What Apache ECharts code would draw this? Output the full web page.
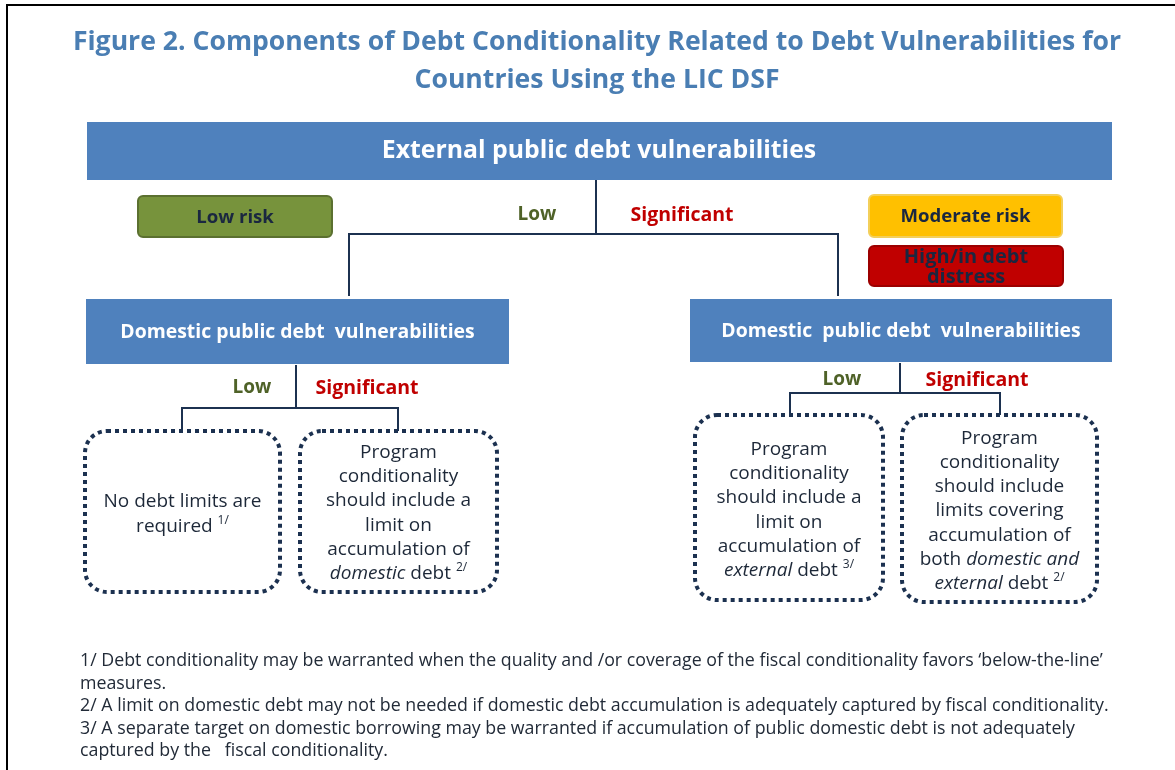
<!DOCTYPE html>
<html>
<head>
<meta charset="utf-8">
<script src="https://cdn.jsdelivr.net/npm/echarts@6/dist/echarts.min.js"></script>
<style>
  html, body { margin: 0; padding: 0; background: #fff; }
  #main { width: 1175px; height: 770px; }
</style>
</head>
<body>
<div id="main"></div>
<script>
/* texts of the figure */
var titleLines = [
    'Figure 2. Components of Debt Conditionality Related to Debt Vulnerabilities for',
    'Countries Using the LIC DSF'
];
var topLabel = 'External public debt vulnerabilities';
var riskLabels = ['Low risk', 'Moderate risk', 'High/in debt\ndistress'];
var branchLabels = ['Low', 'Significant'];
var domesticLabels = ['Domestic public debt  vulnerabilities', 'Domestic  public debt  vulnerabilities'];
var outcomeTexts = [
    'No debt limits are\nrequired {sup|1/}',
    'Program\nconditionality\nshould include a\nlimit on\naccumulation of\n{i|domestic} debt {sup|2/}',
    'Program\nconditionality\nshould include a\nlimit on\naccumulation of\n{i|external} debt {sup|3/}',
    'Program\nconditionality\nshould include\nlimits covering\naccumulation of\nboth {i|domestic and}\n{i|external} debt {sup|2/}'
];
var footnotes = [
    '1/ Debt conditionality may be warranted when the quality and /or coverage of the fiscal conditionality favors \u2018below-the-line\u2019',
    'measures.',
    '2/ A limit on domestic debt may not be needed if domestic debt accumulation is adequately captured by fiscal conditionality.',
    '3/ A separate target on domestic borrowing may be warranted if accumulation of public domestic debt is not adequately',
    'captured by the   fiscal conditionality.'
];

var FONT = '"Open Sans", "Noto Sans", sans-serif';
var NAVY = '#1c3150';
var BLUE = '#4f81bd';

/* layout */
var riskBoxes = [
    {x: 138, y: 196, w: 194, h: 41, fill: '#77933c', stroke: '#5b7030', size: 18.6},
    {x: 869, y: 195, w: 193, h: 42, fill: '#ffc000', stroke: '#f3cf5a', size: 18.6},
    {x: 869, y: 246, w: 194, h: 40, fill: '#c00000', stroke: '#9c0000', size: 20}
];
var domesticBoxes = [
    {x: 86, y: 299, w: 423, h: 65},
    {x: 690, y: 299, w: 422, h: 63}
];
var outcomeBoxes = [
    {x: 85, y: 431, w: 195, h: 161},
    {x: 300, y: 431, w: 197, h: 161},
    {x: 695, y: 415, w: 188, h: 185},
    {x: 902, y: 415, w: 195, h: 187}
];
var outcomeTextY = [514, 513, 510, 511];
/* branch label anchors: [lowX, sigX, y] */
var branchPos = [[537, 682, 215], [252, 367, 388], [842, 977, 380]];
/* connectors as polylines */
var connectors = [
    [[596, 180], [596, 234]],
    [[349, 296], [349, 234], [838, 234], [838, 296]],
    [[296, 365], [296, 408]],
    [[182, 431], [182, 408], [398, 408], [398, 431]],
    [[900, 363], [900, 393]],
    [[790, 415], [790, 393], [1000, 393], [1000, 415]]
];

var g = [];

/* frame lines */
g.push({type: 'line', shape: {x1: 6, y1: 5, x2: 1175, y2: 5}, style: {stroke: '#000', lineWidth: 2}});
g.push({type: 'line', shape: {x1: 7, y1: 4, x2: 7, y2: 770}, style: {stroke: '#000', lineWidth: 2}});

titleLines.forEach(function (t, i) {
    g.push({type: 'text', x: 597, y: 42 + i * 38, style: {
        text: t, fill: '#4a7eb3', font: 'bold 26.6px ' + FONT, align: 'center', verticalAlign: 'middle'
    }});
});

/* top box */
g.push({type: 'rect', shape: {x: 87, y: 122, width: 1025, height: 58}, style: {fill: BLUE}});
g.push({type: 'text', x: 599, y: 151, style: {
    text: topLabel, fill: '#fff', font: 'bold 24.8px ' + FONT, align: 'center', verticalAlign: 'middle'
}});

riskBoxes.forEach(function (b, i) {
    g.push({type: 'rect', shape: {x: b.x, y: b.y, width: b.w, height: b.h, r: 5},
        style: {fill: b.fill, stroke: b.stroke, lineWidth: 2}});
    g.push({type: 'text', x: b.x + b.w / 2, y: b.y + b.h / 2 + 1, style: {
        text: riskLabels[i], fill: '#1a2740', font: 'bold ' + b.size + 'px ' + FONT,
        align: 'center', verticalAlign: 'middle', lineHeight: 20
    }});
});

domesticBoxes.forEach(function (b, i) {
    g.push({type: 'rect', shape: {x: b.x, y: b.y, width: b.w, height: b.h}, style: {fill: BLUE}});
    g.push({type: 'text', x: b.x + b.w / 2, y: b.y + b.h / 2 + 1, style: {
        text: domesticLabels[i], fill: '#fff', font: 'bold 19.4px ' + FONT, align: 'center', verticalAlign: 'middle'
    }});
});

connectors.forEach(function (pts) {
    g.push({type: 'polyline', shape: {points: pts}, style: {stroke: NAVY, lineWidth: 2, fill: null}});
});

branchPos.forEach(function (p) {
    g.push({type: 'text', x: p[0], y: p[2], style: {
        text: branchLabels[0], fill: '#4f6228', font: 'bold 19px ' + FONT, align: 'center', verticalAlign: 'middle'
    }});
    g.push({type: 'text', x: p[1], y: p[2], style: {
        text: branchLabels[1], fill: '#c00000', font: 'bold 19.5px ' + FONT, align: 'center', verticalAlign: 'middle'
    }});
});

outcomeBoxes.forEach(function (b, i) {
    g.push({type: 'rect', shape: {x: b.x, y: b.y, width: b.w, height: b.h, r: 22},
        style: {fill: 'none', stroke: NAVY, lineWidth: 4, lineDash: [4, 4], lineCap: 'butt'}});
    g.push({type: 'text', x: b.x + b.w / 2, y: outcomeTextY[i], style: {
        text: outcomeTexts[i], fill: '#1d2838', font: '19px ' + FONT,
        align: 'center', verticalAlign: 'middle', lineHeight: 24.3,
        rich: {
            i: {fontStyle: 'italic', fontSize: 19, fontFamily: FONT, fill: '#1d2838', lineHeight: 24.3},
            sup: {fontSize: 12, fontFamily: FONT, fill: '#1d2838', padding: [0, 0, 12, 0], lineHeight: 24.3}
        }
    }});
});

footnotes.forEach(function (t, i) {
    g.push({type: 'text', x: 80, y: 661 + i * 22.5, style: {
        text: t, fill: '#222b38', font: '17.8px ' + FONT, align: 'left', verticalAlign: 'middle'
    }});
});

var chart = echarts.init(document.getElementById('main'), null, {renderer: 'canvas'});
chart.setOption({
    backgroundColor: '#fff',
    animation: false,
    graphic: {elements: g}
});
</script>
</body>
</html>
